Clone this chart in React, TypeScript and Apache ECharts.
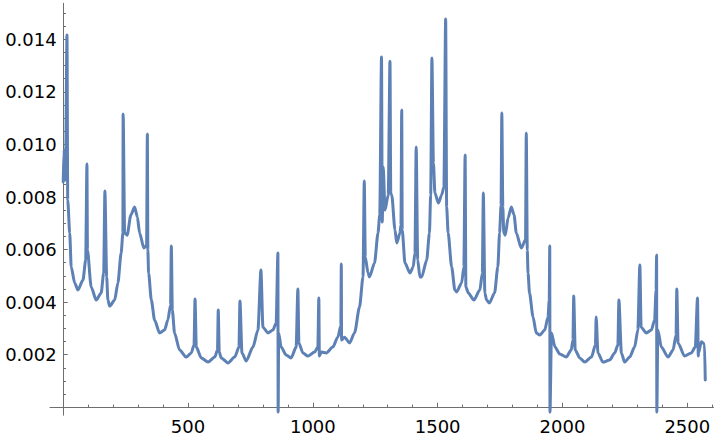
import React, { useEffect, useRef } from "react";
import * as echarts from "echarts";

// [x, y] samples
const band0to450: [number, number][] = [
  [0, 0.00857], [3, 0.00979], [9, 0.00865], [15, 0.01416], [18, 0.00789], [26, 0.00663],
  [32, 0.00534], [46, 0.00473], [59, 0.00446], [79, 0.00484], [90, 0.0056], [95, 0.00926],
  [97, 0.00598], [112, 0.00458], [132, 0.00408], [152, 0.00435], [162, 0.00511], [167, 0.00823],
  [174, 0.00496], [179, 0.00408], [186, 0.00385], [206, 0.00408], [219, 0.00473], [232, 0.00587],
  [239, 0.00663], [240, 0.01116], [246, 0.00663], [256, 0.00655], [271, 0.00732], [286, 0.00762],
  [297, 0.00724], [306, 0.00663], [323, 0.00606], [334, 0.00617], [337, 0.0104], [339, 0.00598],
  [342, 0.00511], [353, 0.00408], [366, 0.00332], [386, 0.00283], [406, 0.00294], [419, 0.00332],
  [430, 0.00389], [433, 0.00614], [437, 0.0037], [446, 0.00283],
];
const band450to1200: [number, number][] = [
  [466, 0.00218], [493, 0.00191], [513, 0.00207], [524, 0.00237], [528, 0.00412], [533, 0.00229],
  [553, 0.00188], [580, 0.00172], [607, 0.00191], [618, 0.00218], [621, 0.0037], [625, 0.0021],
  [633, 0.00188], [660, 0.00169], [687, 0.00191], [704, 0.00229], [708, 0.00404], [716, 0.00207],
  [733, 0.00176], [760, 0.00229], [780, 0.00294], [792, 0.00522], [800, 0.00305], [820, 0.00283],
  [840, 0.00294], [853, 0.00321], [860, 0.00587], [861, -0.00018], [863, 0.00283], [873, 0.00229],
  [893, 0.00199], [913, 0.00188], [933, 0.00229], [940, 0.0045], [944, 0.00245], [960, 0.00207],
  [980, 0.00195], [1007, 0.0021], [1020, 0.00229], [1024, 0.00416], [1026, 0.00195], [1034, 0.0021],
  [1054, 0.00207], [1080, 0.00229], [1100, 0.00267], [1112, 0.0031], [1114, 0.00545], [1115, 0.00256],
  [1127, 0.00267], [1147, 0.00245], [1167, 0.00283], [1187, 0.00382],
];
const band1200to1950: [number, number][] = [
  [1201, 0.00496], [1206, 0.00861], [1210, 0.00572], [1221, 0.00511], [1227, 0.00496], [1247, 0.00549],
  [1261, 0.00663], [1268, 0.00732], [1275, 0.01333], [1278, 0.00705], [1282, 0.00914], [1289, 0.0075],
  [1302, 0.00808], [1309, 0.01317], [1312, 0.00815], [1316, 0.00808], [1329, 0.00675], [1336, 0.00625],
  [1349, 0.00663], [1353, 0.00694], [1356, 0.01131], [1358, 0.00675], [1369, 0.00549], [1389, 0.00511],
  [1402, 0.00534], [1409, 0.00587], [1414, 0.0099], [1420, 0.0056], [1429, 0.00496], [1436, 0.00496],
  [1456, 0.0056], [1467, 0.00663], [1472, 0.00808], [1477, 0.01329], [1483, 0.00929], [1489, 0.00815],
  [1503, 0.00777], [1516, 0.00808], [1525, 0.00838], [1532, 0.01477], [1536, 0.00762], [1542, 0.00663],
  [1556, 0.00534], [1569, 0.00446], [1576, 0.00439], [1596, 0.00473], [1605, 0.00534], [1610, 0.0096],
  [1613, 0.00458], [1623, 0.00435], [1645, 0.00408], [1669, 0.00446], [1679, 0.00511], [1683, 0.00815],
  [1689, 0.00435], [1696, 0.00408], [1707, 0.00397], [1728, 0.00435], [1741, 0.00534], [1748, 0.00663],
  [1754, 0.0077], [1757, 0.0112], [1761, 0.00762], [1765, 0.00663], [1771, 0.00655], [1782, 0.0072],
  [1795, 0.00762], [1806, 0.00732], [1815, 0.00663], [1835, 0.00606], [1852, 0.00637], [1855, 0.01044],
  [1859, 0.00598], [1862, 0.00511], [1868, 0.00435], [1882, 0.00344], [1895, 0.00283], [1909, 0.00275],
  [1929, 0.00294], [1942, 0.00344], [1947, 0.00408],
];
const band1950to2572: [number, number][] = [
  [1949, 0.00614], [1950, -0.00018], [1956, 0.00283], [1970, 0.00229], [1989, 0.00203], [2015, 0.00191],
  [2035, 0.00218], [2042, 0.00256], [2045, 0.00423], [2051, 0.00218], [2069, 0.00188], [2089, 0.00172],
  [2116, 0.00191], [2132, 0.00237], [2135, 0.00344], [2142, 0.00207], [2162, 0.00172], [2189, 0.0018],
  [2209, 0.00207], [2222, 0.00237], [2226, 0.00408], [2236, 0.00207], [2249, 0.00172], [2269, 0.00191],
  [2289, 0.00229], [2302, 0.00294], [2310, 0.00541], [2315, 0.00305], [2336, 0.00283], [2356, 0.00294],
  [2369, 0.00332], [2375, 0.00446], [2377, 0.00579], [2378, -0.00018], [2382, 0.00294], [2396, 0.00229],
  [2423, 0.00191], [2443, 0.00218], [2455, 0.00275], [2458, 0.0045], [2463, 0.00245], [2489, 0.00195],
  [2516, 0.00207], [2532, 0.00229], [2541, 0.00416], [2544, 0.00195], [2545, 0.00207], [2556, 0.00249],
  [2569, 0.00241], [2572, 0.00104],
];

const xTickValues = [500, 1000, 1500, 2000, 2500];
const yTickValues = [0.002, 0.004, 0.006, 0.008, 0.01, 0.012, 0.014];

const AXIS_COLOR = "#6e6e6e";
const FONT = "DejaVu Sans";

export default function App() {
  const ref = useRef<HTMLDivElement>(null);
  useEffect(() => {
    if (!ref.current) return;
    const chart = echarts.init(ref.current, undefined, { renderer: "svg" });
    const data = [...band0to450, ...band450to1200, ...band1200to1950, ...band1950to2572];
    chart.setOption({
      animation: false,
      grid: { left: 50, right: 6.5, top: 3.3, bottom: 22.8, containLabel: false, outerBoundsMode: "none" },
      xAxis: {
        type: "value",
        min: -53,
        max: 2605,
        splitNumber: 5,
        splitLine: { show: false },
        axisLine: { show: true, onZero: true, lineStyle: { color: AXIS_COLOR, width: 1 } },
        axisTick: { show: true, inside: true, length: 4.5, customValues: xTickValues, lineStyle: { color: AXIS_COLOR } },
        minorTick: { show: true, splitNumber: 5, length: 2.7, lineStyle: { color: AXIS_COLOR } },
        axisLabel: {
          customValues: xTickValues,
          color: "#000",
          fontFamily: FONT,
          fontSize: 18,
          margin: 2,
          formatter: (v: number) => String(Math.round(v)),
        },
      },
      yAxis: {
        type: "value",
        min: -0.0003,
        max: 0.01537,
        splitNumber: 8,
        splitLine: { show: false },
        axisLine: { show: true, onZero: true, lineStyle: { color: AXIS_COLOR, width: 1 } },
        axisTick: { show: true, inside: true, length: 4.5, customValues: yTickValues, lineStyle: { color: AXIS_COLOR } },
        minorTick: { show: true, splitNumber: 4, length: 2.7, lineStyle: { color: AXIS_COLOR } },
        axisLabel: {
          customValues: yTickValues,
          color: "#000",
          fontFamily: FONT,
          fontSize: 18,
          margin: -6.7,
          formatter: (v: number) => v.toFixed(3),
        },
      },
      series: [
        {
          type: "line",
          data,
          showSymbol: false,
          symbol: "none",
          clip: true,
          smooth: 0.25,
          smoothMonotone: "x",
          lineStyle: { color: "#5E81B5", width: 3, cap: "round", join: "round" },
        },
      ],
    });
    return () => chart.dispose();
  }, []);
  return <div ref={ref} style={{ width: 720, height: 438, position: "absolute", left: 0, top: 0 }} />;
}
